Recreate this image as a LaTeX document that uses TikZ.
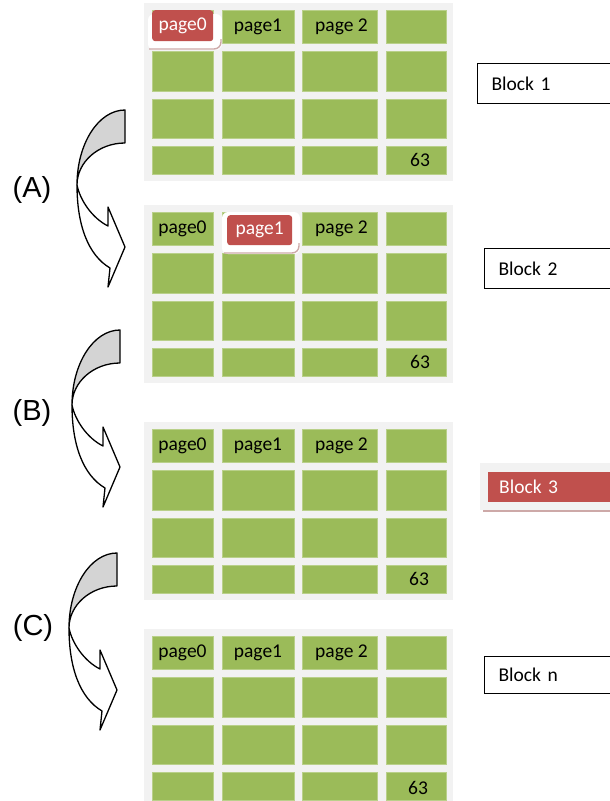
\documentclass[tikz,border=0pt]{standalone}
\usepackage{fontspec}
\setmainfont{Carlito}
\newfontfamily\lblfont{Liberation Sans}
\definecolor{cellgreen}{HTML}{9BBB59}
\definecolor{celledge}{HTML}{B9D08A}
\definecolor{redc}{HTML}{C0504D}
\definecolor{panelgray}{HTML}{F2F2F2}
\definecolor{arrowgray}{HTML}{D4D4D4}
\definecolor{shadowc}{HTML}{CDA9A8}
\newcommand\mypanel[2]{%
  \node[panelbox, minimum width=309, minimum height=178] (#2) at (144,#1) {};
  \foreach \rr/\ry/\rh in {1/7/33,2/48/40,3/96/39,4/143/28}{
    \foreach \cc/\cx/\cw in {1/152/61,2/222/72,3/302/75,4/386/60}{
      \node[cell, minimum width=\cw, minimum height=\rh] (#2r\rr c\cc) at (\cx,#1+\ry) {};
    }}%
}
\begin{document}
\begin{tikzpicture}[x=1pt,y=-1pt,
  panelbox/.style={fill=panelgray, inner sep=0, outer sep=0, anchor=north west},
  cell/.style={fill=cellgreen, draw=celledge, line width=0.6, inner sep=0, outer sep=0, anchor=north west},
  celltext/.style={font=\fontsize{19.5}{22}\selectfont, text=black, inner sep=0},
  redcell/.style={fill=redc, rounded corners=3, text=white, font=\fontsize{19.5}{22}\selectfont, inner sep=0, anchor=north west},
  pshadow/.style={fill=white, rounded corners=6},
  pshadowline/.style={draw=shadowc, line width=1.4, rounded corners=7},
  blockbox/.style={draw=black, line width=1.2, fill=white, minimum height=40, anchor=north west, text width=130, align=left, inner xsep=14, inner ysep=0, font=\fontsize{19.5}{22}\selectfont},
  letter/.style={font=\lblfont\fontsize{29}{32}\selectfont, inner sep=0},
  arrowline/.style={draw=black, line width=1.3, line join=round},
  curvarrow/.pic={
    \draw[arrowline, fill=arrowgray] (125,110) .. controls (98.5,110) and (77,143.6) .. (77,185)
      .. controls (77,162) and (98.5,143) .. (125,143) -- cycle;
    \draw[arrowline, fill=white] (77,185) .. controls (77,225) and (88,255) .. (110,268)
      -- (108,287) -- (125,247) -- (108,207) -- (108,226)
      .. controls (92,218) and (80,200) .. (77,185) -- cycle;
  }]
\useasboundingbox (0,0) rectangle (610,801);
\clip (0,0) rectangle (610,801);

% panels
\mypanel{3}{pa}
\mypanel{205}{pb}
\mypanel{422}{pc}
\mypanel{629}{pn}

% panel 1 texts
\fill[pshadow] (148,14) rectangle (222,50);
\draw[pshadowline] (149,49) -- (221,49) -- (221,39);
\node[redcell, minimum width=61, minimum height=31] (pared) at (152,10) {page0};
\node[celltext] (pat2) at (par1c2) {page1};
\node[celltext] (pat3) at ([xshift=2]par1c3) {page 2};
\node[celltext] (pat4) at ([xshift=4]par4c4) {63};

% panel 2 texts
\fill[pshadow] (222,212) rectangle (300,254);
\draw[pshadowline] (224,253) -- (299,253) -- (299,243);
\node[celltext] (pbt1) at (pbr1c1) {page0};
\node[redcell, minimum width=65, minimum height=30] (pbred) at (227,215) {page1};
\node[celltext] (pbt3) at ([xshift=2]pbr1c3) {page 2};
\node[celltext] (pbt4) at ([xshift=4]pbr4c4) {63};

% panel 3 texts
\node[celltext] (pct1) at (pcr1c1) {page0};
\node[celltext] (pct2) at (pcr1c2) {page1};
\node[celltext] (pct3) at ([xshift=2]pcr1c3) {page 2};
\node[celltext] (pct4) at ([xshift=3]pcr4c4) {63};

% panel n texts
\node[celltext] (pnt1) at (pnr1c1) {page0};
\node[celltext] (pnt2) at (pnr1c2) {page1};
\node[celltext] (pnt3) at ([xshift=2]pnr1c3) {page 2};
\node[celltext] (pnt4) at (418,788) {63};

% block labels
\node[blockbox] (lb1) at (477,63) {Block 1};
\node[blockbox, minimum height=40] (lb2) at (484,248) {Block 2};
\fill[panelgray] (480,463) rectangle (612,510);
\draw[shadowc, line width=1.6] (483,511) -- (612,511);
\node[fill=redc, text=white, minimum height=30, anchor=north west, text width=120, align=left, inner xsep=11, inner ysep=0, font=\fontsize{19.5}{22}\selectfont] (lb3) at (488,472) {Block 3};
\node[blockbox, minimum height=37] (lbn) at (484,656) {Block n};

% curved arrows
\pic at (0,0) {curvarrow};
\pic at (-5,220) {curvarrow};
\pic at (-8,443) {curvarrow};

% letters
\node[letter] (la) at (32,190) {(A)};
\node[letter] (lbB) at (32,413) {(B)};
\node[letter] (lc) at (33,628) {(C)};
\end{tikzpicture}
\end{document}
